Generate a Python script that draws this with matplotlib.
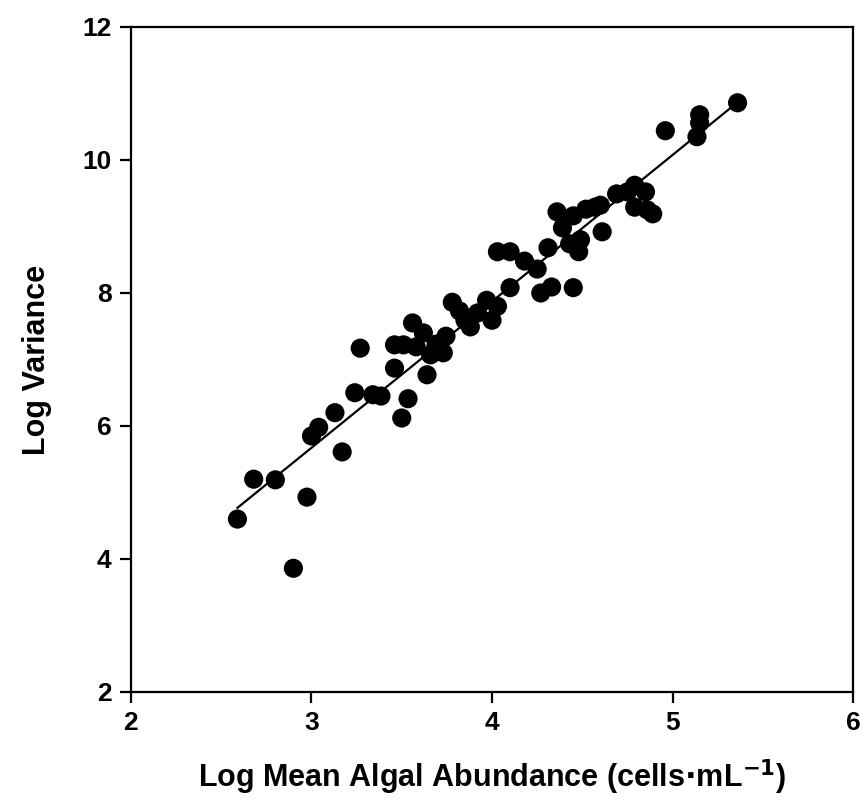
import numpy as np
import matplotlib.pyplot as plt

# log mean algal abundance vs log variance
log_mean = [2.59, 2.68, 2.80, 2.90, 2.975, 3.00, 3.04, 3.13, 3.17, 3.24,
            3.27, 3.34, 3.385, 3.46, 3.46, 3.50, 3.535, 3.51, 3.56, 3.58,
            3.62, 3.64, 3.66, 3.69, 3.73, 3.745, 3.78, 3.82, 3.85, 3.88,
            3.92, 3.97, 4.00, 4.03, 4.03, 4.10, 4.10, 4.18, 4.25, 4.27,
            4.33, 4.31, 4.36, 4.39, 4.43, 4.45, 4.48, 4.45, 4.49, 4.52,
            4.57, 4.60, 4.61, 4.69, 4.75, 4.79, 4.85, 4.79, 4.86, 4.89,
            4.96, 5.135, 5.15, 5.15, 5.36]
log_var = [4.60, 5.20, 5.19, 3.86, 4.93, 5.85, 5.98, 6.20, 5.61, 6.50,
           7.17, 6.47, 6.45, 6.87, 7.22, 6.12, 6.41, 7.22, 7.55, 7.19,
           7.40, 6.77, 7.07, 7.23, 7.10, 7.35, 7.86, 7.73, 7.59, 7.49,
           7.70, 7.89, 7.59, 7.80, 8.62, 8.62, 8.08, 8.48, 8.36, 8.00,
           8.09, 8.68, 9.22, 8.98, 8.74, 9.16, 8.62, 8.08, 8.80, 9.26,
           9.29, 9.32, 8.92, 9.49, 9.52, 9.62, 9.52, 9.29, 9.25, 9.19,
           10.44, 10.35, 10.68, 10.56, 10.86]

x = np.array(log_mean)
y = np.array(log_var)
slope, intercept = np.polyfit(x, y, 1)
xf = np.array([x.min(), x.max()])

plt.rcParams['font.family'] = ['Liberation Sans', 'DejaVu Sans']
plt.rcParams['font.weight'] = 'bold'

fig = plt.figure(figsize=(8.67, 8.08), dpi=100)
ax = fig.add_axes([0.151, 0.1436, 0.833, 0.823])

ax.plot(xf, slope * xf + intercept, color='black', lw=1.6, zorder=2)
ax.scatter(x, y, s=190, color='black', edgecolors='none', zorder=3)

ax.set_xlim(2, 6)
ax.set_ylim(2, 12)
ax.set_xticks([2, 3, 4, 5, 6])
ax.set_yticks([2, 4, 6, 8, 10, 12])
for s in ax.spines.values():
    s.set_linewidth(1.6)
ax.tick_params(direction='out', length=8, width=1.6, labelsize=19, pad=6)
ax.set_xlabel(r'Log Mean Algal Abundance (cells$\cdot$mL$^{\mathbf{-1}}$)',
              fontsize=22, fontweight='bold', labelpad=16)
ax.set_ylabel('Log Variance', fontsize=22, fontweight='bold', labelpad=22)

fig.savefig('out.png', dpi=100)
